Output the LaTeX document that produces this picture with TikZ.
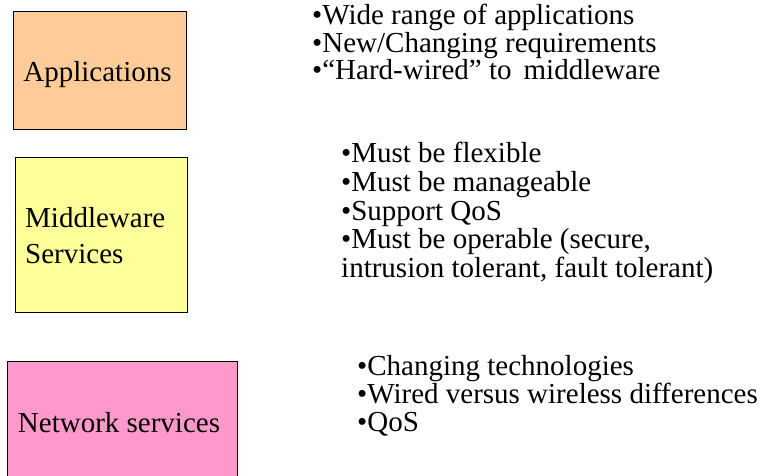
\documentclass[tikz,border=0pt]{standalone}
\usepackage{fontspec}
\setmainfont{Liberation Serif}
\usetikzlibrary{positioning}

\definecolor{appfill}{HTML}{FFCC99}
\definecolor{midfill}{HTML}{FFFF99}
\definecolor{netfill}{HTML}{FF99CC}

\tikzset{
  layer/.style={draw=black, line width=0.8pt, inner sep=0pt},
  label/.style={inner sep=0pt, font=\fontsize{29}{36}\selectfont},
  item/.style={anchor=base west, inner sep=0pt, font=\fontsize{29}{30}\selectfont}
}

\begin{document}
\begin{tikzpicture}[x=1pt, y=-1pt]
        \useasboundingbox (0, 0) rectangle (763, 476);
        \clip (0, 0) rectangle (763, 476);
        % the three layers
        \node[layer, fill=appfill, minimum width=173pt, minimum height=118pt] (app) at (99.5, 70) {};
        \node[layer, fill=midfill, minimum width=172pt, minimum height=155pt] (mid) at (101, 234.5) {};
        \node[layer, fill=netfill, minimum width=230pt, minimum height=130pt] (net) at (122, 426) {};
        \node[label, anchor=base] (applabel) at (97.5, 82) {Applications};
        \node[label, anchor=base west] (midlabel) at (25, 227) {Middleware};
        \node[label, anchor=base west] (midlabel2) at (25, 263) {Services};
        \node[label, anchor=base] (netlabel) at (119, 432) {Network services};
        % what each layer needs
        \foreach \txt [count=\i] in {{•Wide range of applications}, {•New/Changing requirements}, {•“Hard-wired” to\, middleware}}
            \node[item] (appitem\i) at (312, -2.5 + 27.5*\i) {\txt};
        \foreach \txt [count=\i] in {{•Must be flexible}, {•Must be manageable}, {•Support QoS}, {•Must be operable (secure,}, {intrusion tolerant, fault tolerant)}}
            \node[item] (miditem\i) at (341, 134.5 + 28.5*\i) {\txt};
        \foreach \txt [count=\i] in {{•Changing technologies}, {•Wired versus wireless differences}, {•QoS}}
            \node[item] (netitem\i) at (357, 347 + 28*\i) {\txt};
    \end{tikzpicture}
\end{document}
